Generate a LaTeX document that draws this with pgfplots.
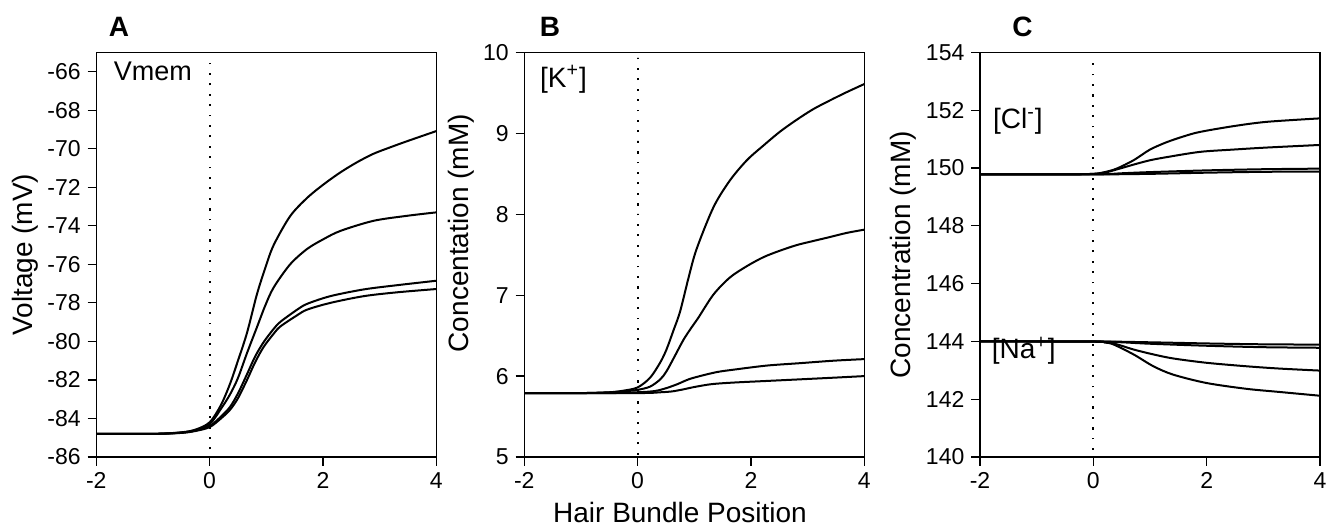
\documentclass[border=0pt]{standalone}
\usepackage{fontspec}
\setmainfont{Liberation Sans}
\usepackage{pgfplots}
\pgfplotsset{compat=1.18}
\pgfplotsset{
  panel/.style={
    scale only axis, width=170pt, height=202.25pt,
    xmin=-2, xmax=4, xtick={-2,0,2,4},
    tick align=outside, tick pos=left,
    major tick length=4.3pt,
    axis line style={line width=0.6pt},
    every tick/.style={line width=0.6pt, black},
    /pgf/number format/assume math mode=true,
    ticklabel style={font=\fontsize{11.5}{13}\selectfont},
    label style={font=\fontsize{14}{16}\selectfont},
    cycle list={{black, solid, no markers}},
    every axis plot post/.append style={line width=1pt, smooth, tension=0.5},
    clip=false,
  },
  vdot/.style={dash pattern=on 0.9pt off 4.3pt, black, no markers},
}
\begin{document}
\begin{tikzpicture}
\path[use as bounding box] (0,0) rectangle (667pt,-264pt);
% ---------------- A
\begin{axis}[panel, at={(48.15pt,-26.25pt)}, anchor=north west,
  ymin=-86, ymax=-65, ytick={-86,-84,...,-66},
  ylabel={Voltage (mV)},
  ylabel style={at={(axis description cs:-0.21,0.5)}, anchor=center, rotate=0}]
\addplot[vdot] coordinates {(0,-85.6) (0,-65.4)};
\addplot coordinates {(-2,-84.8) (-1,-84.8) (-0.5,-84.72) (-0.25,-84.58) (0,-84.2) (0.2,-83.3) (0.36,-82.2) (0.5,-81.0) (0.66,-79.55) (0.83,-77.6) (0.98,-76.2) (1.13,-75.0) (1.42,-73.5) (1.72,-72.55) (2.01,-71.85) (2.31,-71.22) (2.6,-70.7) (2.89,-70.26) (3.19,-69.92) (3.48,-69.61) (4,-69.08)};
\addplot coordinates {(-2,-84.8) (-1,-84.8) (-0.5,-84.73) (-0.25,-84.6) (0,-84.3) (0.2,-83.5) (0.36,-82.75) (0.5,-81.9) (0.66,-80.6) (0.83,-79.3) (0.98,-78.15) (1.13,-77.2) (1.42,-76.0) (1.72,-75.2) (2.01,-74.69) (2.31,-74.26) (2.89,-73.74) (3.48,-73.48) (4,-73.3)};
\addplot coordinates {(-2,-84.8) (-1,-84.8) (-0.5,-84.74) (-0.25,-84.63) (0,-84.4) (0.2,-83.9) (0.36,-83.4) (0.5,-82.7) (0.66,-81.7) (0.8,-80.8) (0.95,-80.05) (1.13,-79.35) (1.25,-78.98) (1.54,-78.36) (1.72,-78.05) (2.13,-77.65) (2.72,-77.3) (3.31,-77.08) (4,-76.85)};
\addplot coordinates {(-2,-84.8) (-1,-84.8) (-0.5,-84.75) (-0.25,-84.65) (0,-84.45) (0.2,-84.0) (0.36,-83.55) (0.5,-82.95) (0.66,-82.0) (0.8,-81.1) (0.95,-80.3) (1.13,-79.6) (1.25,-79.22) (1.54,-78.65) (1.72,-78.35) (2.13,-78.0) (2.72,-77.65) (3.31,-77.45) (4,-77.28)};
\node[anchor=west, font=\fontsize{13.5}{16}\selectfont] at (axis description cs:0.031,0.9525) {Vmem};
\node[font=\fontsize{14}{16}\selectfont\bfseries] at (axis description cs:0.067,1.064) {A};
\end{axis}
% ---------------- B
\begin{axis}[panel, at={(262.15pt,-26.25pt)}, anchor=north west,
  ymin=5, ymax=10, ytick={5,6,...,10},
  ylabel={Concentation (mM)},
  ylabel style={at={(axis description cs:-0.184,0.553)}, anchor=center, rotate=0},
  xlabel={Hair Bundle Position},
  xlabel style={at={(axis description cs:0.458,-0.136)}, anchor=center}]
\addplot[vdot] coordinates {(0,5.03) (0,9.95)};
\addplot coordinates {(-2,5.79) (-1,5.79) (-0.5,5.8) (-0.25,5.82) (0,5.86) (0.22,5.98) (0.4,6.17) (0.51,6.33) (0.63,6.56) (0.75,6.8) (0.9,7.22) (1.04,7.57) (1.34,8.09) (1.63,8.42) (1.93,8.67) (2.22,8.85) (2.51,9.02) (2.81,9.17) (3.1,9.3) (3.4,9.41) (3.69,9.51) (4,9.61)};
\addplot coordinates {(-2,5.79) (-1,5.79) (-0.5,5.8) (-0.25,5.81) (0,5.83) (0.22,5.87) (0.4,5.96) (0.51,6.06) (0.65,6.24) (0.81,6.45) (0.95,6.6) (1.07,6.72) (1.34,7.01) (1.63,7.22) (1.93,7.36) (2.22,7.47) (2.51,7.55) (2.81,7.62) (3.1,7.67) (3.4,7.72) (3.69,7.77) (4,7.81)};
\addplot coordinates {(-2,5.79) (-0.5,5.79) (0,5.8) (0.3,5.815) (0.5,5.85) (0.7,5.9) (0.9,5.96) (1.1,6.0) (1.4,6.05) (1.7,6.08) (2.28,6.13) (2.87,6.16) (3.45,6.19) (4,6.21)};
\addplot coordinates {(-2,5.79) (0,5.79) (0.4,5.8) (0.6,5.81) (0.8,5.835) (1.0,5.865) (1.3,5.9) (1.69,5.92) (2.28,5.94) (2.87,5.96) (3.45,5.98) (4,6.0)};
\node[anchor=west, font=\fontsize{14}{16}\selectfont] at (axis description cs:0.026,0.934) {[K\textsuperscript{+}]};
\node[font=\fontsize{14}{16}\selectfont\bfseries] at (axis description cs:0.0756,1.064) {B};
\end{axis}
% ---------------- C
\begin{axis}[panel, at={(490pt,-26.25pt)}, anchor=north west,
  ymin=140, ymax=154, ytick={140,142,...,154},
  ylabel={Concentration (mM)},
  ylabel style={at={(axis description cs:-0.2256,0.5)}, anchor=center, rotate=0}]
\addplot[vdot] coordinates {(0,140.25) (0,153.75)};
\addplot coordinates {(-2,149.78) (-0.5,149.78) (0,149.8) (0.2,149.86) (0.41,149.98) (0.71,150.27) (1.0,150.64) (1.3,150.9) (1.6,151.1) (1.88,151.25) (2.47,151.45) (3.06,151.6) (4,151.72)};
\addplot coordinates {(-2,149.78) (-0.5,149.78) (0,149.8) (0.2,149.84) (0.41,149.95) (0.71,150.12) (1.0,150.27) (1.3,150.38) (1.88,150.56) (2.47,150.64) (3.06,150.71) (4,150.8)};
\addplot coordinates {(-2,149.78) (0,149.78) (0.5,149.82) (1,149.86) (2,149.92) (3,149.96) (4,149.98)};
\addplot coordinates {(-2,149.78) (0,149.78) (1,149.8) (2,149.84) (3,149.87) (4,149.88)};
\addplot coordinates {(-2,144) (0,144) (1,143.97) (2,143.93) (3,143.9) (4,143.89)};
\addplot coordinates {(-2,144) (0,144) (0.5,143.97) (1,143.92) (2,143.85) (3,143.8) (4,143.78)};
\addplot coordinates {(-2,144) (0,143.99) (0.35,143.93) (0.71,143.72) (1.06,143.55) (1.41,143.41) (2,143.26) (2.7,143.14) (3.29,143.06) (4,142.99)};
\addplot coordinates {(-2,144) (0,143.99) (0.2,143.96) (0.35,143.9) (0.71,143.55) (1.06,143.14) (1.41,142.85) (2,142.56) (2.7,142.36) (3.29,142.25) (4,142.12)};
\node[anchor=west, font=\fontsize{14}{16}\selectfont] at (axis description cs:0.018,0.829) {[Cl\textsuperscript{-}]};
\node[anchor=west, font=\fontsize{14}{16}\selectfont] at (axis description cs:0.014,0.262) {[Na\textsuperscript{+}]};
\node[font=\fontsize{14}{16}\selectfont\bfseries] at (axis description cs:0.125,1.064) {C};
\end{axis}
\end{tikzpicture}
\end{document}
